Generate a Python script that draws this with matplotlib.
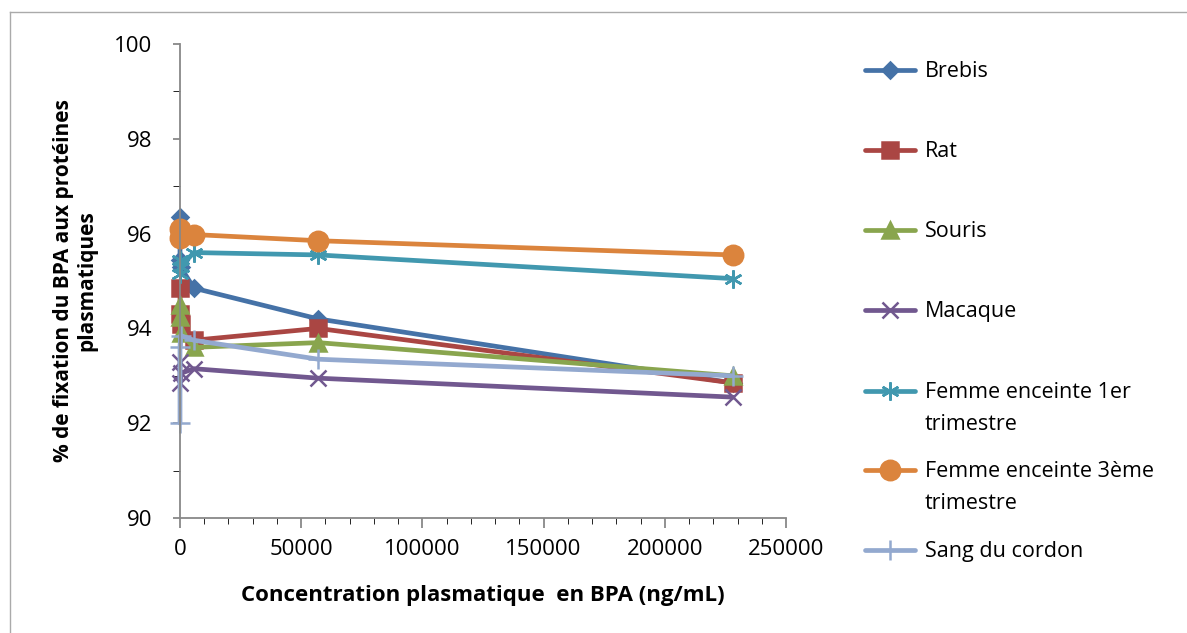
import numpy as np
import matplotlib.pyplot as plt
from matplotlib.lines import Line2D
from matplotlib.ticker import MultipleLocator

plt.rcParams['font.family'] = ['Open Sans', 'DejaVu Sans']

# concentrations (ng/mL)
conc = [0.23, 2.3, 228, 5700, 57000, 228000]

series_names = ["Brebis", "Rat", "Souris", "Macaque",
                "Femme enceinte 1er\ntrimestre", "Femme enceinte 3ème\ntrimestre",
                "Sang du cordon"]
brebis = [96.35, 95.45, 95.3, 94.85, 94.2, 92.85]
rat = [94.85, 94.3, 94.1, 93.75, 94.0, 92.85]
souris = [94.5, 94.25, 93.9, 93.6, 93.7, 93.0]
macaque = [93.3, 92.85, 93.05, 93.15, 92.95, 92.55]
femme_1er = [95.45, 95.15, 95.3, 95.6, 95.55, 95.05]
femme_3eme = [96.1, 95.9, 96.0, 95.98, 95.85, 95.55]
sang_cordon = [92.0, 93.6, 93.85, 93.75, 93.35, 93.0]

values = [brebis, rat, souris, macaque, femme_1er, femme_3eme, sang_cordon]
colors = ['#4572A7', '#AA4643', '#89A54E', '#71588F', '#4198AF', '#DB843D', '#93A9CF']
markers = ['D', 's', '^', 'x', (6, 2, 0), 'o', '+']
msizes = [8, 11, 11, 11, 13, 14, 14]

W, H = 1187, 633
fig = plt.figure(figsize=(W / 100, H / 100), dpi=100)
ax = fig.add_axes([180 / W, 1 - 518 / H, (786 - 180) / W, (518 - 44) / H])

for vals, c, m, ms in zip(values, colors, markers, msizes):
    ax.plot(conc, vals, color=c, lw=3.4, marker=m, ms=ms, mew=1.8,
            mec=c, mfc=c, solid_joinstyle='round', solid_capstyle='round',
            clip_on=False)

ax.set_xlim(0, 250000)
ax.set_ylim(90, 100)
ax.set_xticks(np.arange(0, 250001, 50000))
ax.set_yticks(np.arange(90, 101, 2))
ax.xaxis.set_minor_locator(MultipleLocator(10000))
ax.yaxis.set_minor_locator(MultipleLocator(1))
ax.tick_params(labelsize=16, color='#888888', direction='out', width=1.3)
ax.tick_params(axis='x', which='major', length=7, pad=8)
ax.tick_params(axis='x', which='minor', length=4)
ax.tick_params(axis='y', which='both', length=5, pad=15)
for s in ['top', 'right']:
    ax.spines[s].set_visible(False)
for s in ['left', 'bottom']:
    ax.spines[s].set_color('#888888')
    ax.spines[s].set_linewidth(1.3)

ax.set_xlabel("Concentration plasmatique  en BPA (ng/mL)", fontsize=16,
              fontweight='bold', labelpad=18)
ax.set_ylabel("% de fixation du BPA aux protéines\nplasmatiques", fontsize=15,
              fontweight='bold', labelpad=12, linespacing=1.15)

# legend drawn by hand to follow the Excel layout
leg_y = [70, 150, 230, 310, 391, 470, 550]
for name, c, m, ms, y in zip(series_names, colors, markers, msizes, leg_y):
    yf = 1 - y / H
    fig.add_artist(Line2D([865 / W, 915 / W], [yf, yf], color=c, lw=3.4,
                          solid_capstyle='round'))
    fig.add_artist(Line2D([890 / W], [yf], color=c, marker=m, ms=ms, mew=1.8,
                          mec=c, mfc=c))
    fig.text(925 / W, yf + 9 / H, name, fontsize=15.5, va='top', ha='left',
             linespacing=1.7)

# chart frame
fig.add_artist(Line2D([10 / W, 10 / W], [0, 1 - 12 / H], color='#aaaaaa', lw=1))
fig.add_artist(Line2D([10 / W, 1], [1 - 12 / H, 1 - 12 / H], color='#aaaaaa', lw=1))

fig.savefig('out.png', dpi=100)
